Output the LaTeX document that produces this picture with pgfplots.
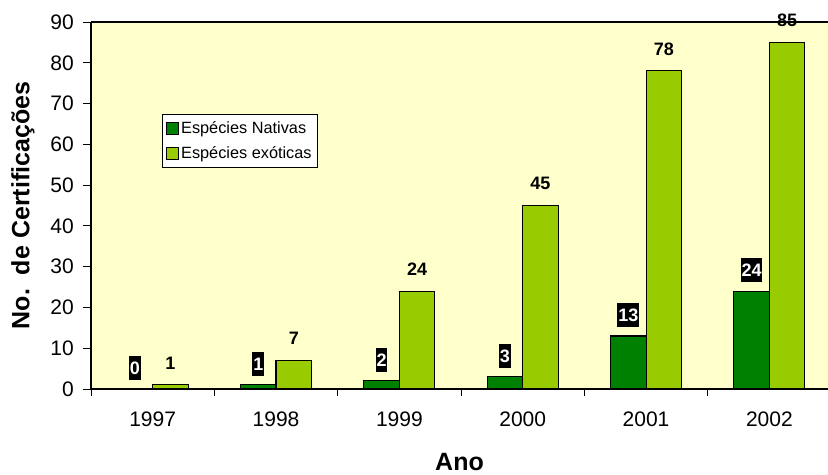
\documentclass[border=0pt]{standalone}
\usepackage{pgfplots}
\pgfplotsset{compat=1.18}
\usepackage{fontspec}
\setmainfont{Liberation Sans}
\definecolor{bgyellow}{HTML}{FFFFCC}
\definecolor{natgreen}{HTML}{008000}
\definecolor{exogreen}{HTML}{99CC00}
\begin{document}
\begin{tikzpicture}
\begin{axis}[
  at={(0,0)}, anchor=south west,
  scale only axis, width=737bp, height=367bp,
  xmin=-0.5, xmax=5.475, ymin=0, ymax=90,
  axis x line*=box, axis y line*=left,
  axis background/.style={fill=bgyellow},
  axis line style={line width=1.2bp, black},
  clip=false,
  /pgf/number format/assume math mode=true,
  ytick={0,10,...,90},
  ytick pos=left, xtick pos=bottom,
  tick align=outside,
  major tick length=8bp,
  minor tick length=7bp,
  tick style={black, line width=0.8bp},
  xtick={0,1,2,3,4,5},
  xticklabels={1997,1998,1999,2000,2001,2002},
  major x tick style={draw=none},
  minor xtick={-0.5,0.5,1.5,2.5,3.5,4.5},
  yticklabel style={font=\fontsize{21bp}{25bp}\selectfont, inner sep=2bp, xshift=-7bp},
  xticklabel style={font=\fontsize{21bp}{25bp}\selectfont, inner sep=2bp, yshift=-13bp},
  xlabel={Ano}, ylabel={No.\ \ de Certificações},
  xlabel style={at={(axis description cs:0.5,-0.199)}, anchor=center, font=\bfseries\fontsize{25bp}{30bp}\selectfont},
  ylabel style={at={(axis description cs:-0.0923,0.5)}, anchor=center, font=\bfseries\fontsize{25bp}{30bp}\selectfont},
  ybar, bar width=0.288,
  legend style={at={(axis description cs:0.0963,0.749)}, anchor=north west,
    draw=black, fill=white, line width=0.8bp,
    font=\fontsize{16.3bp}{19bp}\selectfont, row sep=8bp,
    inner xsep=4bp, inner ysep=5bp,
    /tikz/every even column/.append style={column sep=4bp}},
  legend cell align=left,
]
\addplot[fill=natgreen, draw=black, line width=1.1bp, bar shift=-0.144,
  legend image code/.code={\draw[fill=natgreen, draw=black, line width=0.8bp] (0bp,-6bp) rectangle (12bp,6bp);},
  nodes near coords,
  nodes near coords style={anchor=center, yshift=21bp, fill=black, text=white, draw=none,
    font=\bfseries\fontsize{18bp}{22bp}\selectfont, inner xsep=0.8bp, inner ysep=5.5bp,
    text height=13bp, text depth=0pt}]
  coordinates {(0,0) (1,1) (2,2) (3,3) (4,13) (5,24)};
\addplot[fill=exogreen, draw=black, line width=1.1bp, bar shift=0.144,
  legend image code/.code={\draw[fill=exogreen, draw=black, line width=0.8bp] (0bp,-6bp) rectangle (12bp,6bp);},
  nodes near coords,
  nodes near coords style={anchor=center, yshift=22bp, text=black, draw=none, fill=none,
    font=\bfseries\fontsize{18bp}{22bp}\selectfont}]
  coordinates {(0,1) (1,7) (2,24) (3,45) (4,78) (5,85)};
\legend{Espécies Nativas, Espécies exóticas}
\end{axis}
\pgfresetboundingbox
\path[use as bounding box] (-91bp,-86bp) rectangle (737bp,389bp);
\end{tikzpicture}
\end{document}
